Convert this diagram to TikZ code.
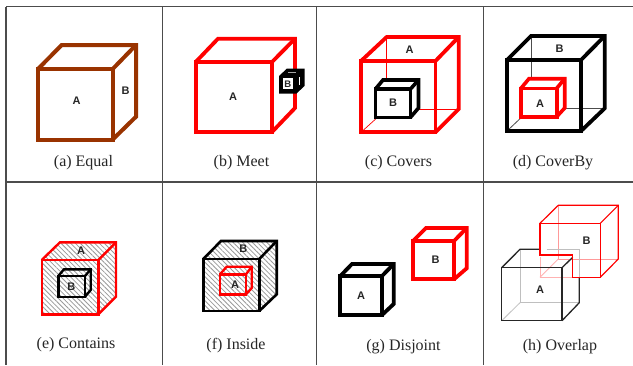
\documentclass[tikz,border=0pt]{standalone}
\usepackage{fontspec}
\setmainfont{Liberation Serif}
\newfontfamily\lblfont{Liberation Sans}
\usetikzlibrary{patterns.meta}
\definecolor{brn}{HTML}{993300}
\tikzset{
  x=1pt,y=-1pt,
  grid/.style={draw=black!70,line width=1.1pt},
  captxt/.style={font=\fontsize{16}{17}\selectfont,text=black!85,inner sep=0},
  lbl/.style={font=\lblfont\bfseries\fontsize{11}{12}\selectfont,inner sep=0,text=black!85},
}
\newcommand{\bb}{0}
\newcommand{\cubeout}[9]{%
  \draw[#1,line width=#2pt,line join=miter] (#3,#5) rectangle (#4,#6);
  \draw[#1,line width=#2pt,line join=miter] (#3,#5) -- (#7,#9) -- (#8,#9) -- (#8,\bb) -- (#4,#6);
  \draw[#1,line width=#2pt,line join=miter] (#4,#5) -- (#8,#9);
}
\newcommand{\cubehid}[9]{%
  \draw[#1,line width=#2pt] (#7,#9) -- (#7,\bb) -- (#8,\bb);
  \draw[#1,line width=#2pt] (#7,\bb) -- (#3,#6);
}
\newcommand{\cubehatch}[7]{%
  \fill[pattern={Lines[angle=-45,distance=3.4pt,line width=0.8pt]},pattern color=black!40] (#1,#3) -- (#5,#7) -- (#6,#7) -- (#6,\bb) -- (#2,#4) -- (#1,#4) -- cycle;
}
\begin{document}
\begin{tikzpicture}
\useasboundingbox (0,0) rectangle (633,365);
\fill[white] (0,0) rectangle (633,365);
% grid
\coordinate (gt1) at (6,6.5); \coordinate (gt2) at (633,6.5);
\coordinate (gm1) at (6,182); \coordinate (gm2) at (633,182);
\draw[grid] (gt1) -- (gt2);
\draw[grid] (gm1) -- (gm2);
\foreach \x in {6,162.5,316.7,483.7} \draw[grid] (\x,6.5) -- (\x,365);

% (a)
\renewcommand{\bb}{116.7}
\cubeout{brn}{4}{38}{112.7}{69}{139.5}{61.7}{136}{45}
\node[lbl] (a1) at (76.5,100.5) {A};
\node[lbl] (a2) at (125.5,90.5) {B};
\node[captxt] (ca) at (83.5,163) {(a) Equal};

% (b)
\renewcommand{\bb}{108}
\cubeout{red}{3.8}{195.7}{272}{62}{132}{218}{295}{38.7}
\node[lbl] (b1) at (233,97) {A};
\fill[black] (279,76) -- (287,68.5) -- (304.5,68.5) -- (304.5,86) -- (296.5,93.5) -- (279,93.5) -- cycle;
\fill[white] (282.7,78.3) rectangle (292.7,89.3);
\fill[black!35] (288,71.5) rectangle (296,72.3);
\fill[white] (299,77) rectangle (300,85);
\node[lbl,font=\lblfont\bfseries\fontsize{9.5}{10}\selectfont] (b2) at (287.7,84) {B};
\node[captxt] (cb) at (241.5,163) {(b) Meet};

% (c)
\renewcommand{\bb}{109}
\cubehid{red}{0.7}{361}{435.5}{61}{132.3}{386.7}{458.7}{37}
\cubeout{red}{3.8}{361}{435.5}{61}{132.3}{386.7}{458.7}{37}
\renewcommand{\bb}{108}
\fill[white] (375.5,89) -- (383,80) -- (418.5,80) -- (418.5,108) -- (410.5,117.3) -- (375.5,117.3) -- cycle;
\cubeout{black}{3.6}{375.5}{410.5}{89}{117.3}{383}{418.5}{80}
\node[lbl] (c1) at (409.5,50) {A};
\node[lbl] (c2) at (393,102.7) {B};
\node[captxt] (cc) at (398.5,163) {(c) Covers};

% (d)
\renewcommand{\bb}{108.3}
\cubehid{black!70}{0.8}{507}{581}{60}{131}{531}{604.7}{36}
\cubeout{black}{3.8}{507}{581}{60}{131}{531}{604.7}{36}
\renewcommand{\bb}{108}
\fill[white] (521,88.3) -- (529,78.7) -- (564.7,78.7) -- (564.7,108) -- (556.7,116.7) -- (521,116.7) -- cycle;
\cubeout{red}{3.6}{521}{556.7}{88.3}{116.7}{529}{564.7}{78.7}
\node[lbl] (d1) at (540,103.3) {A};
\node[lbl] (d2) at (559.5,49) {B};
\node[captxt] (cd) at (553,163) {(d) CoverBy};

% (e)
\renewcommand{\bb}{296.7}
\cubehatch{41.7}{98.3}{260}{314.3}{60}{116}{242.3}
\cubeout{red}{2.4}{41.7}{98.3}{260}{314.3}{60}{116}{242.3}
\renewcommand{\bb}{290}
\cubeout{black}{2.4}{58.3}{85}{276}{296.7}{64}{90.7}{269.3}
\node[lbl] (e1) at (81,250.7) {A};
\node[lbl] (e2) at (71.3,286.7) {B};
\node[captxt] (ce) at (76,345) {(e) Contains};

% (f)
\renewcommand{\bb}{294.3}
\cubehatch{203.3}{259.3}{259}{311}{221}{276.7}{241}
\cubeout{black}{2.6}{203.3}{259.3}{259}{311}{221}{276.7}{241}
\renewcommand{\bb}{288}
\cubeout{red}{2.4}{220}{246}{274.3}{294.3}{226.7}{251.7}{266.7}
\node[lbl] (f1) at (235,285) {A};
\node[lbl] (f2) at (243.3,248.7) {B};
\node[captxt] (cf) at (236,346) {(f) Inside};

% (g)
\renewcommand{\bb}{304}
\cubeout{black}{3.8}{340.3}{382}{276}{315}{352}{393.7}{264}
\renewcommand{\bb}{268.3}
\cubeout{red}{3.8}{413.3}{454.3}{240.7}{279}{426}{466.7}{228}
\node[lbl] (g1) at (361,296) {A};
\node[lbl] (g2) at (435.7,260) {B};
\node[captxt] (cg) at (403.5,347) {(g) Disjoint};

% (h)
\node[lbl] (h1) at (540,290) {A};
\node[lbl] (h2) at (586.5,241) {B};
\draw[black!25,line width=0.8pt] (520,249.3) -- (520,302.7) -- (579.3,302.7);
\draw[black!25,line width=0.8pt] (520,302.7) -- (501.7,320.7);
\draw[red!30,line width=0.8pt] (540,257) -- (540,277.3) -- (572.7,277.3);
\draw[red!40,line width=0.8pt] (558.3,205.3) -- (558.3,259) -- (618.3,259);
\draw[red!30,line width=0.8pt] (558.3,259) -- (540,277.3);
\draw[black!25,line width=0.8pt] (546.7,249.3) -- (579.3,249.3) -- (579.3,277.3);
\draw[black!85,line width=1.3pt] (501.7,267.7) rectangle (562,320.7);
\draw[black!85,line width=1.3pt] (501.7,267.7) -- (520,249.3) -- (540,249.3);
\draw[black!85,line width=1.3pt] (562,267.7) -- (572.7,257.3);
\draw[black!85,line width=1.3pt] (579.3,277.3) -- (579.3,302.7) -- (562,320.7);
\draw[red,line width=1.4pt] (540,255) -- (540,223.3) -- (600.3,223.3) -- (600.3,277.3) -- (572.7,277.3) -- (572.7,255) -- cycle;
\draw[red,line width=1.2pt] (540,223.3) -- (558.3,205.3) -- (618.3,205.3) -- (618.3,259) -- (600.3,277.3);
\draw[red,line width=1.2pt] (600.3,223.3) -- (618.3,205.3);
\node[captxt] (ch) at (560,347) {(h) Overlap};
\end{tikzpicture}
\end{document}
